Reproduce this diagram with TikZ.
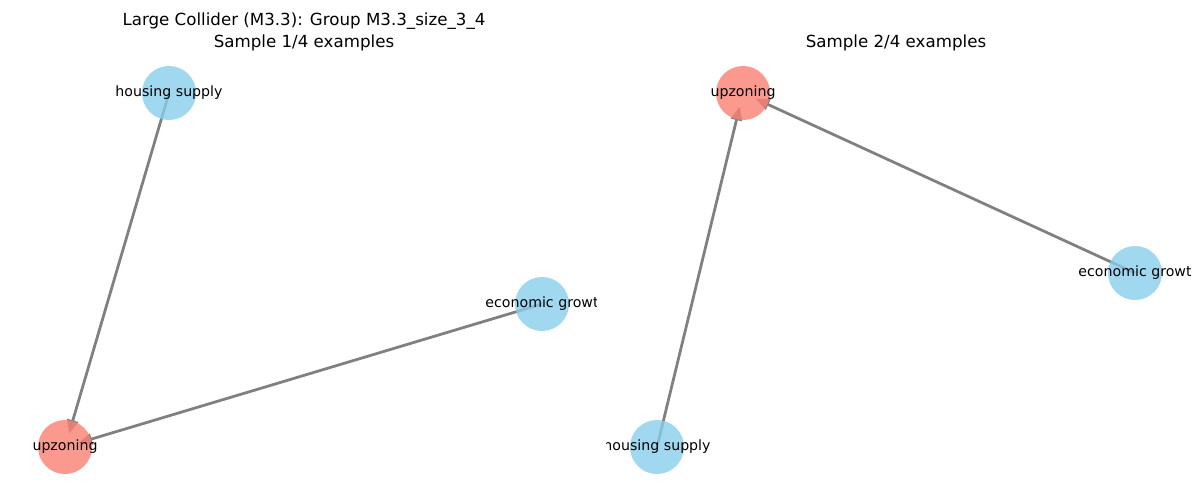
\documentclass[tikz,border=0pt]{standalone}
\usepackage{fontspec}
\setmainfont{DejaVu Sans}
\usetikzlibrary{arrows.meta, backgrounds}

\definecolor{skyblue}{HTML}{87CEEB}
\definecolor{salmon}{HTML}{FA8072}
\tikzset{
  var/.style={circle, minimum size=38.9pt, inner sep=0pt, fill=skyblue, fill opacity=0.8,
    label={[font=\fontsize{10.2}{12}\selectfont, inner sep=0pt]center:#1}},
  treat/.style={var=#1, fill=salmon},
  edge/.style={draw=gray, line width=2pt, -{Triangle[length=10pt, width=8pt]}, shorten >=10pt}
}

\begin{document}
\begin{tikzpicture}[x=0.72pt, y=-0.72pt]
\useasboundingbox (0,0) rectangle (1200,500);
\node[font=\fontsize{12}{16}\selectfont, align=center] (title1) at (304,32) {Large Collider (M3.3): Group M3.3\_size\_3\_4\\Sample 1/4 examples};
\node[font=\fontsize{12}{16}\selectfont] (title2) at (896,43) {Sample 2/4 examples};
% left panel
\begin{scope}
  \clip (0,56) rectangle (596,500);
  \node[var={housing supply}] (hs1) at (169,93) {};
  \node[treat={upzoning}] (up1) at (65,447) {};
  \node[var={economic growt}] (eg1) at (542,304) {};
  \begin{scope}[on background layer]
    \draw[edge] (hs1.center) -- (up1.center);
    \draw[edge] (eg1.center) -- (up1.center);
  \end{scope}
\end{scope}
% right panel
\begin{scope}
  \clip (606,56) rectangle (1190,500);
  \node[treat={upzoning}] (up2) at (743,93) {};
  \node[var={economic growt}] (eg2) at (1135,273) {};
  \node[var={housing supply}] (hs2) at (657,447) {};
  \begin{scope}[on background layer]
    \draw[edge] (hs2.center) -- (up2.center);
    \draw[edge] (eg2.center) -- (up2.center);
  \end{scope}
\end{scope}
\end{tikzpicture}
\end{document}
